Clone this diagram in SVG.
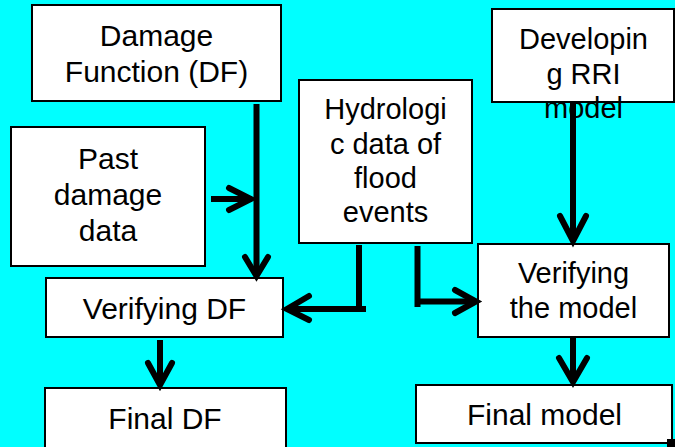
<svg xmlns="http://www.w3.org/2000/svg" width="675" height="447" viewBox="0 0 675 447">
<style>
.box{fill:#ffffff;stroke:#000000;stroke-width:2}
.t{font-family:"Liberation Sans",Arial,sans-serif;font-size:29px;fill:#000000;text-anchor:middle}
.t30{font-size:30px}
.shaft{fill:none;stroke:#000000;stroke-width:6;stroke-linecap:butt}
.head{fill:none;stroke:#000000;stroke-width:6;stroke-linecap:round;stroke-linejoin:miter}
</style>
<rect x="0" y="0" width="675" height="447" fill="#00ffff"/>
<g id="damage-function">
<rect class="box" x="32" y="5" width="249" height="96"/>
<text class="t t30" x="156.5" y="46">Damage</text>
<text class="t t30" x="156.5" y="82">Function (DF)</text>
</g>
<g id="past-damage-data">
<rect class="box" x="11" y="127" width="194" height="139"/>
<text class="t t30" x="108" y="169">Past</text>
<text class="t t30" x="108" y="205">damage</text>
<text class="t t30" x="108" y="241">data</text>
</g>
<g id="hydrologic-data">
<rect class="box" x="299" y="80" width="173" height="163"/>
<text class="t" x="385.5" y="119">Hydrologi</text>
<text class="t" x="385.5" y="154">c data of</text>
<text class="t" x="385.5" y="188">flood</text>
<text class="t" x="385.5" y="222">events</text>
</g>
<g id="developing-rri">
<rect class="box" x="492" y="9" width="182" height="93"/>
<text class="t" x="583.5" y="49">Developin</text>
<text class="t" x="583.5" y="84">g RRI</text>
<text class="t" x="583.5" y="118">model</text>
</g>
<g id="verifying-df">
<rect class="box" x="46" y="278" width="237" height="59"/>
<text class="t t30" x="164.5" y="319">Verifying DF</text>
</g>
<g id="verifying-model">
<rect class="box" x="478" y="244" width="191" height="93"/>
<text class="t" x="573.5" y="283">Verifying</text>
<text class="t" x="573.5" y="318">the model</text>
</g>
<g id="final-df">
<rect class="box" x="45" y="388" width="241" height="70"/>
<text class="t t30" x="165" y="429">Final DF</text>
</g>
<g id="final-model">
<rect class="box" x="416" y="385" width="256" height="58"/>
<text class="t t30" x="544.5" y="425">Final model</text>
<rect x="667" y="439" width="8" height="8" fill="#000000"/>
</g>
<g id="connectors">
<line class="shaft" x1="256.5" y1="104" x2="256.5" y2="276"/>
<polyline class="head" points="245,257 256.5,276 268,257"/>
<line class="shaft" x1="211" y1="199" x2="252" y2="199"/>
<polyline class="head" points="229,188 251,199 229,210"/>
<path class="shaft" d="M359,245 V306"/>
<line class="shaft" x1="366" y1="309" x2="287" y2="309"/>
<polyline class="head" points="309,296 287,309 309,320"/>
<path class="shaft" d="M417.5,246 V307"/>
<line class="shaft" x1="420" y1="301.5" x2="476" y2="301.5"/>
<polyline class="head" points="455,290 476,301.5 455,313"/>
<line class="shaft" x1="573" y1="103" x2="573" y2="241"/>
<polyline class="head" points="560,216 573,241 586,216"/>
<line class="shaft" x1="160" y1="340" x2="160" y2="385"/>
<polyline class="head" points="148,363 160,385 172,363"/>
<line class="shaft" x1="573" y1="338" x2="573" y2="382"/>
<polyline class="head" points="559,358 573,382 587,358"/>
</g>
</svg>
